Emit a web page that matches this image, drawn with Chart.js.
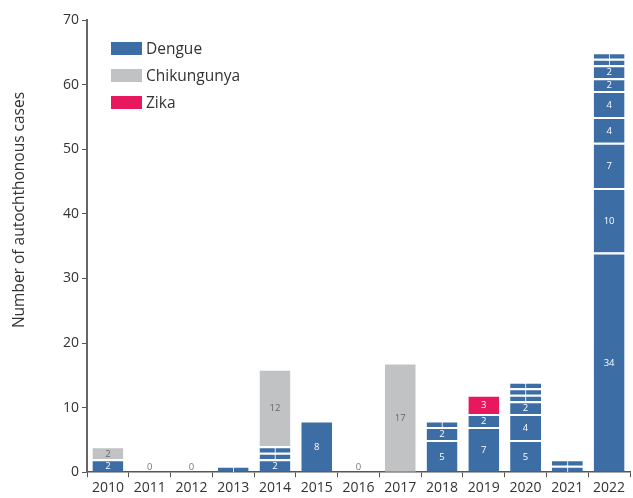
<!DOCTYPE html>
<html>
<head>
<meta charset="utf-8">
<script src="https://cdn.jsdelivr.net/npm/chart.js@4/dist/chart.umd.min.js"></script>
<style>
  body { margin: 0; background: #fff; }
  #wrap { position: relative; width: 633px; height: 498px; }
  #legend { position: absolute; left: 111px; top: 41px; font-family: 'Open Sans', sans-serif; font-size: 15.5px; color: #333; }
  #legend div { display: flex; align-items: center; height: 14px; margin-bottom: 13px; }
  #legend span.box { display: inline-block; width: 31px; height: 13px; margin-right: 4px; }
</style>
</head>
<body>
<div id="wrap">
  <canvas id="cases_chart" width="633" height="498"></canvas>
  <div id="legend"></div>
</div>
<script>
// years on the x axis
const years = ['2010', '2011', '2012', '2013', '2014', '2015', '2016', '2017', '2018', '2019', '2020', '2021', '2022'];
// dengue cases per outbreak, stacked from the bottom
const dengue_outbreaks = [[2], [], [], [1], [2, 1, 1], [8], [], [], [5, 2, 1], [7, 2], [5, 4, 2, 1, 1, 1], [1, 1], [34, 10, 7, 4, 4, 2, 2, 1, 1]];
const chikungunya_cases = [2, 0, 0, 0, 12, 0, 0, 17, 0, 0, 0, 0, 0];
const zika_cases = [0, 0, 0, 0, 0, 0, 0, 0, 0, 3, 0, 0, 0];
const y_ticks = [0, 10, 20, 30, 40, 50, 60, 70];
const y_title = 'Number of autochthonous cases';

const colours = { dengue: '#3c6ea5', chik: '#c1c2c4', zika: '#e8185f' };
const font_family = "'Open Sans', sans-serif";

// one dataset per outbreak position so every outbreak is its own block
const datasets = [];
const max_outbreaks = Math.max(...dengue_outbreaks.map(o => o.length));
for (let k = 0; k < max_outbreaks; k++) {
    datasets.push({
        label: 'Dengue',
        data: dengue_outbreaks.map(o => o[k] !== undefined ? o[k] : null),
        backgroundColor: colours.dengue,
        textColour: '#fff'
    });
}
datasets.push({ label: 'Chikungunya', data: chikungunya_cases.map(v => v || null), backgroundColor: colours.chik, textColour: '#666' });
datasets.push({ label: 'Zika', data: zika_cases.map(v => v || null), backgroundColor: colours.zika, textColour: '#fff' });
datasets.forEach(d => {
    d.borderColor = '#fff';
    d.borderWidth = { top: 2, bottom: 0, left: 0, right: 0 };
    d.borderSkipped = false;
    d.barPercentage = 0.74;
    d.categoryPercentage = 1;
    d.stack = 'all';
});

// html legend
const legend_items = [['Dengue', colours.dengue], ['Chikungunya', colours.chik], ['Zika', colours.zika]];
document.getElementById('legend').innerHTML = legend_items
    .map(i => '<div><span class="box" style="background:' + i[1] + '"></span>' + i[0] + '</div>').join('');

// numbers inside the blocks, 0 for empty years, and the y title
const segment_labels = {
    id: 'segment_labels',
    afterDatasetsDraw(chart) {
        const ctx = chart.ctx;
        ctx.save();
        ctx.textAlign = 'center';
        ctx.textBaseline = 'middle';
        ctx.font = '9.5px ' + font_family;
        chart.data.datasets.forEach((ds, i) => {
            const meta = chart.getDatasetMeta(i);
            meta.data.forEach((bar, j) => {
                const v = ds.data[j];
                if (!v) return;
                ctx.fillStyle = ds.textColour;
                ctx.fillText(String(v), bar.x, (bar.y + bar.base) / 2 + 1);
            });
        });
        const xs = chart.scales.x, ys = chart.scales.y;
        ctx.fillStyle = '#777';
        years.forEach((y, j) => {
            const total = dengue_outbreaks[j].reduce((a, b) => a + b, 0) + chikungunya_cases[j] + zika_cases[j];
            if (total === 0) ctx.fillText('0', xs.getPixelForValue(j), ys.getPixelForValue(0) - 5);
        });
        // y axis title, sits a bit above the middle of the axis
        ctx.translate(20, 210);
        ctx.rotate(-Math.PI / 2);
        ctx.fillStyle = '#333';
        ctx.font = '15.5px ' + font_family;
        ctx.fillText(y_title, 0, 0);
        ctx.restore();
    }
};

const canvas = document.getElementById('cases_chart');
new Chart(canvas, {
    type: 'bar',
    data: { labels: years, datasets: datasets },
    options: {
        responsive: false,
        animation: false,
        layout: { padding: { top: 20, right: 3, left: 60, bottom: 0 } },
        plugins: { legend: { display: false }, tooltip: { enabled: false } },
        scales: {
            x: {
                stacked: true,
                grid: { drawOnChartArea: false, drawTicks: true, tickLength: 5, color: '#555', offset: true },
                border: { color: '#555', width: 1.5 },
                ticks: { color: '#333', font: { family: font_family, size: 14 }, padding: 2, maxRotation: 0, autoSkip: false }
            },
            y: {
                stacked: true,
                min: 0,
                max: 70,
                afterBuildTicks: axis => { axis.ticks = y_ticks.map(v => ({ value: v })); },
                grid: { drawOnChartArea: false, drawTicks: true, tickLength: 5, color: '#555' },
                border: { color: '#666', width: 2 },
                ticks: { color: '#333', font: { family: font_family, size: 14 }, padding: 3 }
            }
        }
    },
    plugins: [segment_labels]
});
</script>
</body>
</html>
